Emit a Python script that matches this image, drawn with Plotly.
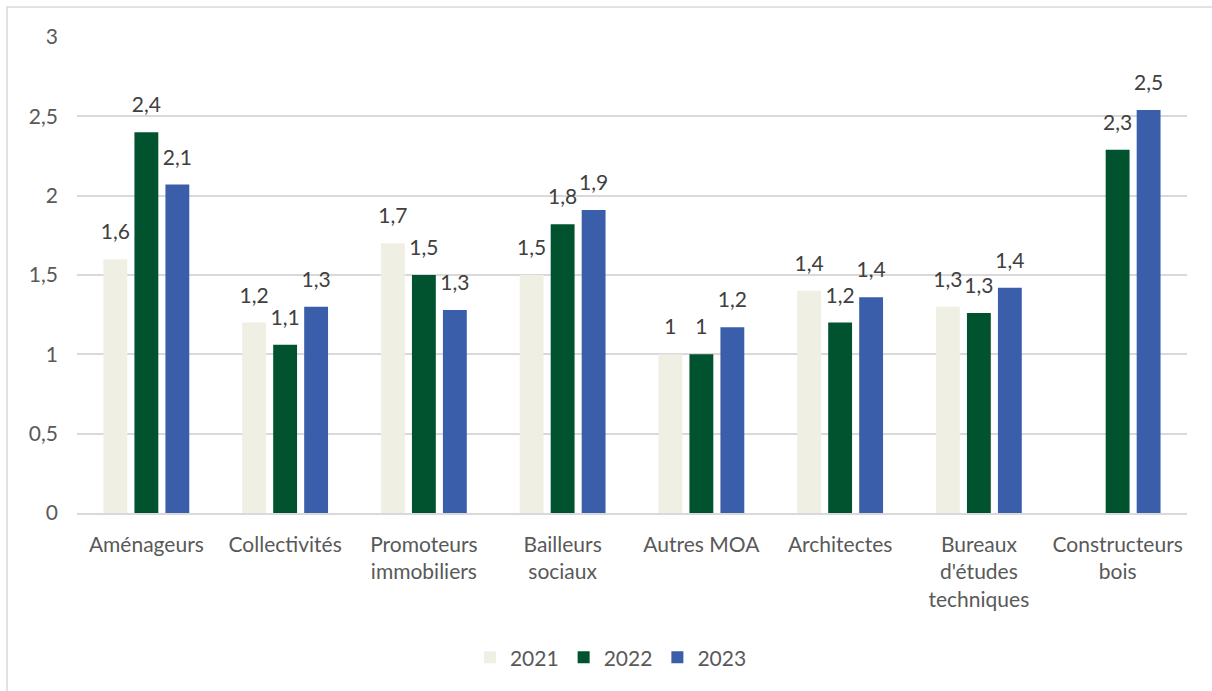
import plotly.graph_objects as go

categories = ["Aménageurs", "Collectivités", "Promoteurs<br>immobiliers", "Bailleurs<br>sociaux",
              "Autres MOA", "Architectes", "Bureaux<br>d'études<br>techniques", "Constructeurs<br>bois"]
series_names = ["2021", "2022", "2023"]
v2021 = [1.60, 1.20, 1.70, 1.50, 1.00, 1.40, 1.30, None]
v2022 = [2.40, 1.06, 1.50, 1.82, 1.00, 1.20, 1.26, 2.29]
v2023 = [2.07, 1.30, 1.28, 1.91, 1.17, 1.36, 1.42, 2.54]
colors = ["#EFEFE4", "#00532E", "#3B5EAA"]

FONT = "Lato"
GAP = 0.33


def label(v):
    if v is None:
        return ""
    s = f"{round(v, 1):.1f}"
    if s.endswith(".0"):
        s = s[:-2]
    return s.replace(".", ",")


fig = go.Figure()
for name, vals, col in zip(series_names, [v2021, v2022, v2023], colors):
    fig.add_trace(go.Bar(
        name=name, x=categories, y=vals, marker=dict(color=col, line=dict(width=0)),
        hoverinfo="skip",
    ))
# data labels, grouped like the bars
for name, vals in zip(series_names, [v2021, v2022, v2023]):
    fig.add_trace(go.Scatter(
        name=name, x=categories, y=vals, mode="markers+text",
        marker=dict(size=22, opacity=0), text=[label(v) for v in vals],
        textposition="top center", cliponaxis=False, showlegend=False,
        textfont=dict(family=FONT, size=21, color="#404040"), hoverinfo="skip",
    ))

fig.update_layout(
    width=1212, height=691,
    margin=dict(l=77, r=25, t=37, b=178),
    paper_bgcolor="white", plot_bgcolor="white",
    separators=", ",
    barmode="group", bargap=GAP, bargroupgap=0.23,
    scattermode="group", scattergap=GAP,
    font=dict(family=FONT, size=21, color="#595959"),
    showlegend=True,
    legend=dict(orientation="h", x=0.481, xanchor="center", y=-0.304, yanchor="middle",
                font=dict(family=FONT, size=21, color="#595959"), traceorder="normal",
                itemwidth=30),
    xaxis=dict(showgrid=False, showline=True, linecolor="#d9d9d9", linewidth=1.5,
               ticks="", ticklabelstandoff=12, tickfont=dict(family=FONT, size=21, color="#595959")),
    yaxis=dict(range=[0, 3], dtick=0.5, showgrid=True, gridcolor="#d9d9d9", gridwidth=1.5,
               zeroline=False, showline=False, ticks="", ticklabelstandoff=18,
               tickfont=dict(family=FONT, size=21, color="#595959")),
    shapes=[dict(type="rect", xref="paper", yref="paper", x0=-0.063, x1=1.03, y0=-0.39, y1=1.063,
                 line=dict(color="#d9d9d9", width=1.5), fillcolor="rgba(0,0,0,0)", layer="below")],
)

fig.write_html("out.html")
